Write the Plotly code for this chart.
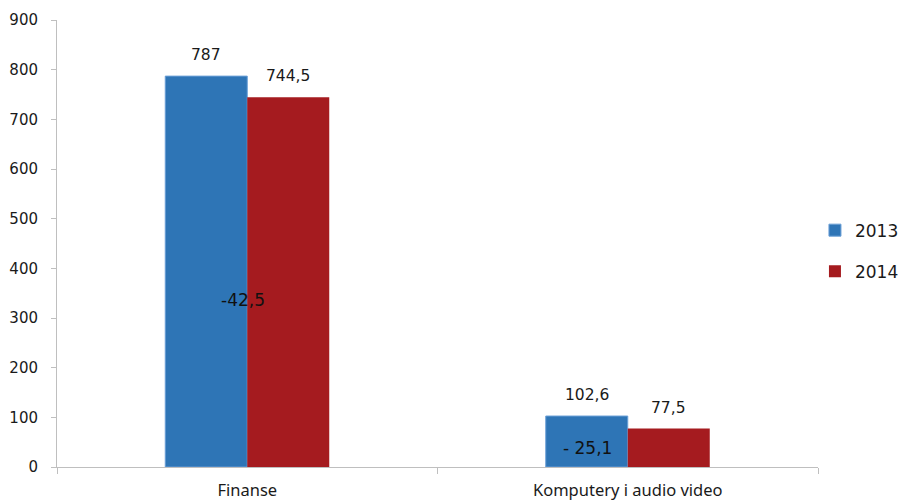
import plotly.graph_objects as go

categories = ["Finanse", "Komputery i audio video"]
values_2013 = [787, 102.6]
values_2014 = [744.5, 77.5]
change_labels = ["-42,5", "- 25,1"]
change_label_y = [336, 38]
change_label_x = [-0.01, 0.893]
y_ticks = [0, 100, 200, 300, 400, 500, 600, 700, 800, 900]


def pl(v):
    return f"{v:g}".replace(".", ",")


NUM_FONT = "DejaVu Sans, sans-serif"
CAT_FONT = "Noto Sans, sans-serif"
TXT = "#1a1a1a"
BAR_OFFSET = 0.108  # half of one bar's width, in category units

fig = go.Figure()
fig.add_trace(go.Bar(
    name="2013", x=categories, y=values_2013,
    marker=dict(color="#2e75b6", line=dict(color="#6a9fd6", width=1)),
    legendgroup="a",
))
fig.add_trace(go.Bar(
    name="2014", x=categories, y=values_2014,
    marker=dict(color="#a51b1f", line=dict(width=0)),
    legendgroup="b",
))

# value labels above each bar
for series, shift in ((values_2013, -BAR_OFFSET), (values_2014, BAR_OFFSET)):
    for i, v in enumerate(series):
        fig.add_annotation(x=i + shift, y=v, text=pl(v), showarrow=False,
                           xref="x", yref="y", yanchor="bottom", yshift=10,
                           font=dict(size=15.5, color=TXT, family=NUM_FONT))

# difference labels placed over the bars
for x, y, t in zip(change_label_x, change_label_y, change_labels):
    fig.add_annotation(x=x, y=y, text=t, showarrow=False, xref="x", yref="y",
                       font=dict(size=17, color="#111111", family=NUM_FONT))

fig.update_layout(
    width=901, height=501,
    margin=dict(l=57, r=83, t=20, b=34, autoexpand=False),
    paper_bgcolor="white", plot_bgcolor="white",
    barmode="group", bargap=0.569, bargroupgap=0,
    font=dict(family=NUM_FONT, color=TXT),
    legend=dict(x=0.996, y=0.483, xanchor="left", yanchor="middle",
                font=dict(size=17, color=TXT, family=NUM_FONT),
                traceorder="grouped", tracegroupgap=16,
                bgcolor="rgba(0,0,0,0)"),
    xaxis=dict(type="category", range=[-0.5, 1.5],
               showline=True, linecolor="#bfbfbf", linewidth=1,
               ticks="outside", tickson="boundaries", ticklen=6,
               tickcolor="#bfbfbf", showgrid=False, ticklabelstandoff=8,
               tickfont=dict(size=16.5, color=TXT, family=CAT_FONT)),
    yaxis=dict(range=[0, 900], tickvals=y_ticks,
               showline=True, linecolor="#bfbfbf", linewidth=1,
               ticks="outside", ticklen=5, tickcolor="#bfbfbf",
               showgrid=False, zeroline=False, ticklabelstandoff=10,
               tickfont=dict(size=15, color=TXT, family=NUM_FONT)),
)

fig.write_html("out.html")
